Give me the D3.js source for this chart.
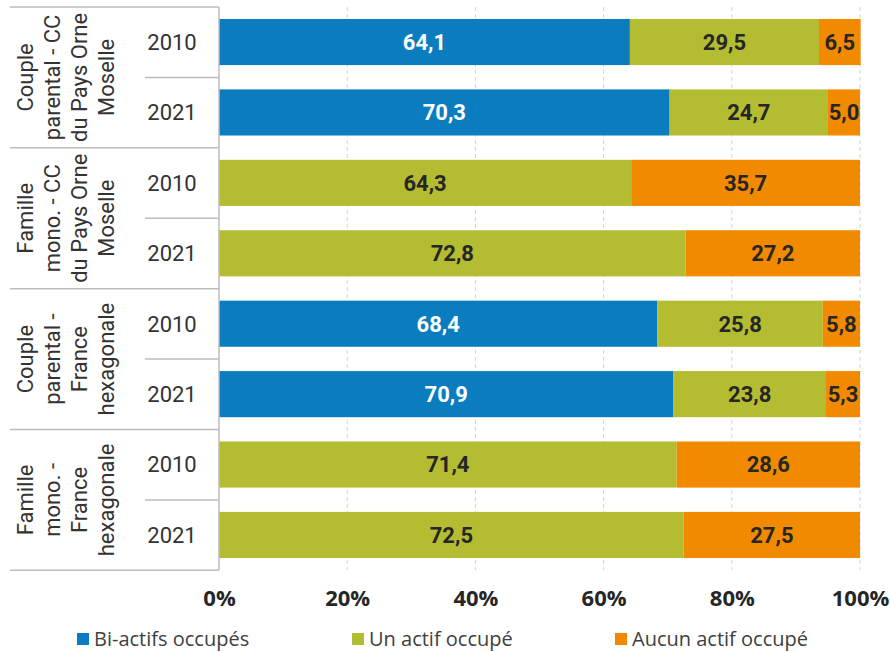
<!DOCTYPE html>
<html>
<head>
<meta charset="utf-8">
<script src="https://cdn.jsdelivr.net/npm/d3@7"></script>
<style>
  body { margin: 0; background: #fff; }
  #chart { width: 890px; height: 652px; }
</style>
</head>
<body>
<div id="chart"></div>
<script>
// Data
const groupLabels = [
    ["Couple", "parental - CC", "du Pays Orne", "Moselle"],
    ["Famille", "mono. - CC", "du Pays Orne", "Moselle"],
    ["Couple", "parental -", "France", "hexagonale"],
    ["Famille", "mono. -", "France", "hexagonale"]
];
const years = ["2010", "2021"];
const rowKeys = ["g1-2010", "g1-2021", "g2-2010", "g2-2021", "g3-2010", "g3-2021", "g4-2010", "g4-2021"];
const biActifs   = [64.1, 70.3, 0, 0, 68.4, 70.9, 0, 0];
const unActif    = [29.5, 24.7, 64.3, 72.8, 25.8, 23.8, 71.4, 72.5];
const aucunActif = [6.5, 5.0, 35.7, 27.2, 5.8, 5.3, 28.6, 27.5];
const seriesNames = ["Bi-actifs occupés", "Un actif occupé", "Aucun actif occupé"];
const xTicks = [0, 20, 40, 60, 80, 100];

// Colors
const colors = ["#0b7dbf", "#b4bc31", "#f28a00"];
const labelColors = ["#ffffff", "#262626", "#262626"];

// SVG setup
const width = 890, height = 652;
const svg = d3.select("#chart").append("svg")
    .attr("width", width)
    .attr("height", height)
    .style("font-family", "Roboto, sans-serif");

const x = d3.scaleLinear().domain([0, 100]).range([219, 860]);
const y = d3.scaleBand().domain(rowKeys).range([7, 570]).paddingInner(0.345).paddingOuter(0.17);
const step = y.step();

// Build table for stack
const table = rowKeys.map((k, i) => ({ key: k, s0: biActifs[i], s1: unActif[i], s2: aucunActif[i] }));
const stack = d3.stack().keys(["s0", "s1", "s2"]);
const series = stack(table);

// Dashed vertical grid
svg.append("g")
    .selectAll("line")
    .data(xTicks.slice(1))
    .join("line")
    .attr("x1", d => x(d)).attr("x2", d => x(d))
    .attr("y1", 7).attr("y2", 570)
    .attr("stroke", "#d4d4d4")
    .attr("stroke-width", 1)
    .attr("stroke-dasharray", "4,3");

// Bars
const layers = svg.append("g")
    .selectAll("g")
    .data(series)
    .join("g")
    .attr("fill", (d, i) => colors[i]);

layers.selectAll("rect")
    .data(d => d.filter(p => p[1] - p[0] > 0))
    .join("rect")
    .attr("x", d => x(d[0]))
    .attr("y", d => y(d.data.key))
    .attr("width", d => x(d[1]) - x(d[0]))
    .attr("height", y.bandwidth());

// Value labels
const fmt = d3.formatLocale({ decimal: ",", thousands: " ", grouping: [3], currency: ["", "€"] }).format(".1f");
series.forEach((s, i) => {
    svg.append("g")
        .selectAll("text")
        .data(s.filter(p => p[1] - p[0] > 0))
        .join("text")
        .attr("x", d => (x(d[0]) + x(d[1])) / 2)
        .attr("y", d => y(d.data.key) + y.bandwidth() / 2)
        .attr("dy", "0.36em")
        .attr("text-anchor", "middle")
        .attr("font-size", 22)
        .attr("font-weight", "bold")
        .attr("fill", labelColors[i])
        .text(d => fmt(d[1] - d[0]));
});

// Category table lines
const tableLines = svg.append("g")
    .attr("stroke", "#bdbdbd")
    .attr("stroke-width", 1.5);

tableLines.append("line")
    .attr("x1", x(0)).attr("x2", x(0))
    .attr("y1", 7).attr("y2", 570);

groupLabels.forEach((g, gi) => {
    const top = y.range()[0] + step * 2 * gi;
    const bottom = top + step * 2;
    if (gi === 0) {
        tableLines.append("line").attr("x1", 10).attr("x2", x(0)).attr("y1", top).attr("y2", top);
    }
    tableLines.append("line").attr("x1", 10).attr("x2", x(0)).attr("y1", bottom).attr("y2", bottom);
    tableLines.append("line").attr("x1", 145).attr("x2", x(0)).attr("y1", top + step).attr("y2", top + step);

    // Group label, rotated
    const cy = (top + bottom) / 2;
    const lab = svg.append("text")
        .attr("transform", `translate(66, ${cy}) rotate(-90)`)
        .attr("text-anchor", "middle")
        .attr("font-size", 22)
        .attr("fill", "#333");
    g.forEach((line, li) => {
        lab.append("tspan")
            .attr("x", 0)
            .attr("y", (li - (g.length - 1) / 2) * 27)
            .attr("dy", "0.36em")
            .text(line);
    });
});

// Year labels
svg.append("g")
    .selectAll("text")
    .data(rowKeys)
    .join("text")
    .attr("x", 172)
    .attr("y", d => y(d) + y.bandwidth() / 2)
    .attr("dy", "0.36em")
    .attr("text-anchor", "middle")
    .attr("font-size", 22)
    .attr("fill", "#333")
    .text((d, i) => years[i % 2]);

// X axis labels
const xAxis = svg.append("g")
    .attr("transform", "translate(0, 590)")
    .call(d3.axisBottom(x).tickValues(xTicks).tickFormat(d => d + "%").tickSize(0).tickPadding(0));
xAxis.select(".domain").remove();
xAxis.selectAll("text")
    .attr("y", 0)
    .attr("dy", "0.71em")
    .attr("font-size", 22)
    .attr("font-weight", "bold")
    .attr("font-family", "'Liberation Sans Narrow', 'Open Sans', sans-serif")
    .attr("fill", "#262626");

// Legend
const legendX = [77, 352, 615];
const legend = svg.append("g")
    .selectAll("g")
    .data(seriesNames)
    .join("g")
    .attr("transform", (d, i) => `translate(${legendX[i]}, 639)`);
legend.append("rect")
    .attr("x", 0).attr("y", -6)
    .attr("width", 12).attr("height", 12)
    .attr("fill", (d, i) => colors[i]);
legend.append("text")
    .attr("x", 17)
    .attr("dy", "0.36em")
    .attr("font-size", 20)
    .attr("font-family", "'Open Sans', sans-serif")
    .attr("fill", "#404040")
    .text(d => d);
</script>
</body>
</html>
